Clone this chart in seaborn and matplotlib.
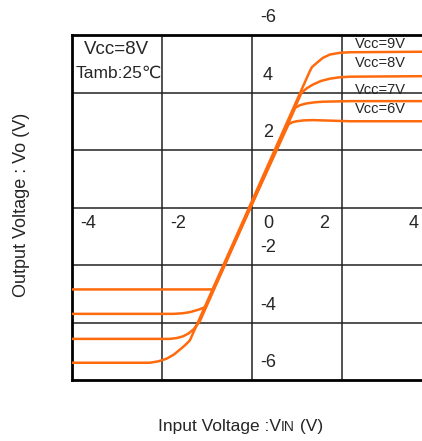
import seaborn as sns
import pandas as pd
import numpy as np
import matplotlib.pyplot as plt

# Curvas (VIN -> VO) para cada Vcc
vin_9 = [-4, -2.27, -2.08, -1.90, -1.74, -1.60, -1.48, -1.38,
         1.27, 1.33, 1.44, 1.57, 1.73, 1.95, 2.18, 4]
vo_9 = [-5.40, -5.40, -5.35, -5.26, -5.12, -4.94, -4.78, -4.62,
        4.69, 4.88, 5.03, 5.20, 5.32, 5.38, 5.40, 5.42]

vin_8 = [-4, -1.82, -1.67, -1.53, -1.41, -1.30, -1.16,
         1.10, 1.22, 1.36, 1.53, 1.73, 1.95, 2.18, 4]
vo_8 = [-4.57, -4.57, -4.54, -4.48, -4.38, -4.24, -3.96,
        3.99, 4.15, 4.28, 4.40, 4.48, 4.53, 4.55, 4.57]

vin_7 = [-4, -1.75, -1.55, -1.38, -1.20, -1.03,
         0.96, 1.07, 1.21, 1.40, 1.58, 2.18, 4]
vo_7 = [-3.70, -3.70, -3.68, -3.64, -3.56, -3.46,
        3.47, 3.56, 3.62, 3.66, 3.68, 3.70, 3.70]

vin_6 = [-4, -0.87, 0.81, 0.89, 0.99, 1.15, 1.36, 2.18, 4]
vo_6 = [-2.85, -2.85, 2.89, 2.96, 3.00, 3.03, 3.04, 3.00, 3.00]

vcc_labels = ["Vcc=9V", "Vcc=8V", "Vcc=7V", "Vcc=6V"]

x_ticks = [-4, -2, 0, 2, 4]
x_tick_labels = ["-4", "-2", "0", "2", "4"]
y_ticks = [6, 4, 2, -2, -4, -6]
y_tick_labels = ["-6", "4", "2", "-2", "-4", "-6"]

orange = "#ff6a0d"

df = pd.concat([
    pd.DataFrame({"vin": vin_9, "vo": vo_9, "vcc": vcc_labels[0]}),
    pd.DataFrame({"vin": vin_8, "vo": vo_8, "vcc": vcc_labels[1]}),
    pd.DataFrame({"vin": vin_7, "vo": vo_7, "vcc": vcc_labels[2]}),
    pd.DataFrame({"vin": vin_6, "vo": vo_6, "vcc": vcc_labels[3]}),
])

sns.set_style("white")
plt.rcParams["font.family"] = ["Liberation Sans", "DejaVu Sans"]

fig = plt.figure(figsize=(4.22, 4.41), dpi=100)
ax = fig.add_axes([72 / 422, 61 / 441, 360 / 422, 345 / 441])

sns.lineplot(data=df, x="vin", y="vo", hue="vcc", units="vcc", estimator=None,
             sort=False, palette={v: orange for v in vcc_labels}, legend=False,
             linewidth=1.8, ax=ax, zorder=3)

ax.set_xlim(-4, 4)
ax.set_ylim(-6, 6)
ax.set_xticks([-2, 0, 2])
ax.set_yticks([-4, -2, 0, 2, 4])
ax.tick_params(labelbottom=False, labelleft=False, length=0)
ax.grid(True, color="#222222", linewidth=1.1)
ax.set_xlabel("")
ax.set_ylabel("")
for s in ax.spines.values():
    s.set_color("black")
    s.set_linewidth(2)

# etiquetas de los ejes dentro del grafico
for v, lab in zip(x_ticks, x_tick_labels):
    off = 0.36 if v <= 0 else -0.4
    ax.text(v + off, -0.56, lab, fontsize=13, ha="center", va="center")
for v, lab in zip(y_ticks, y_tick_labels):
    ax.text(0.35, v + 0.6, lab, fontsize=13, ha="center", va="center", clip_on=False)

# leyendas de Vcc a la derecha
for lab, y in zip(vcc_labels, [5.67, 5.03, 4.10, 3.41]):
    ax.text(2.29, y, lab, fontsize=10.5, ha="left", va="center")

ax.text(-3.74, 5.51, "Vcc=8V", fontsize=13.5, ha="left", va="center")
ax.text(-3.91, 4.68, "Tamb:25℃", fontsize=12.5, ha="left", va="center")

fig.text(22 / 422, 1 - 205 / 441, "Output Voltage : Vo (V)", fontsize=13,
         rotation=90, ha="center", va="center")

t1 = fig.text(158 / 422, 1 - 434 / 441, "Input Voltage :V", fontsize=12.5,
              ha="left", va="bottom")
t2 = ax.annotate("IN", xy=(1, 0), xycoords=t1, fontsize=10, ha="left", va="bottom")
ax.annotate(" (V)", xy=(1, 0), xycoords=t2, fontsize=12.5, ha="left", va="bottom")

plt.savefig("out.png", dpi=100)
